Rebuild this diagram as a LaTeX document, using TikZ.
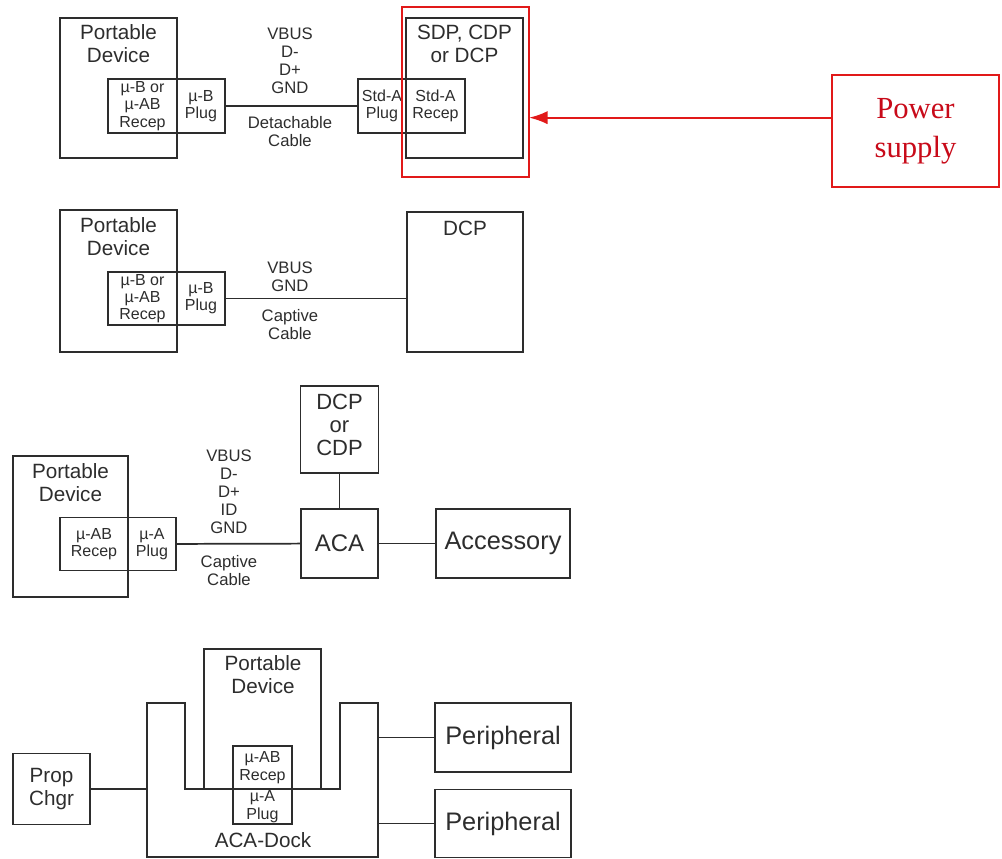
\documentclass[tikz,border=0pt]{standalone}
\usepackage{fontspec}
\setmainfont{Liberation Sans}
\newfontfamily\psfont{Liberation Serif}
\usepackage{tikz}
\usetikzlibrary{positioning}
\usetikzlibrary{arrows.meta}
\definecolor{ink}{RGB}{45,45,45}
\definecolor{psred}{RGB}{225,25,25}
\definecolor{pstext}{RGB}{200,10,25}
\tikzset{box/.style 2 args={draw=ink,line width=1.3pt,minimum width=0.75*#1pt,minimum height=0.75*#2pt,inner sep=0pt,outer sep=0pt,align=center,text=ink},
  plugtxt/.style={font=\fontsize{12}{12.9}\selectfont},
  devtxt/.style={font=\fontsize{15.5}{17.25}\selectfont,text=ink,align=center,inner sep=0pt},
  unittxt/.style={font=\fontsize{19}{22}\selectfont},
  cabletxt/.style={font=\fontsize{12.5}{13.5}\selectfont,text=ink,align=center,inner sep=0pt},
  pstxt/.style={font=\psfont\fontsize{23}{29}\selectfont,text=pstext},
  wire/.style={draw=ink,line width=1.3pt},}

\begin{document}
\begin{tikzpicture}[x=0.75pt,y=-0.75pt]
    \useasboundingbox (0,0) rectangle (1002,859);

    % detachable cable
    \node[box={117}{140}] (pdA) at (118.5,88) {};
    \node[devtxt] (pdAt) at (118.5,43.5) {Portable\\Device};
    \node[box={69}{54},plugtxt] (recA) at (142.5,106) {µ-B or\\µ-AB\\Recep};
    \node[box={48}{54},plugtxt] (plgA) [right = 0pt of recA] {µ-B\\Plug};
    \node[box={117}{140}] (sdpA) at (464.5,88) {};
    \node[devtxt] (sdpAt) at (464.5,44) {SDP, CDP\\or DCP};
    \node[box={59}{54},plugtxt] (stdrA) at (435.5,106) {Std-A\\Recep};
    \node[box={48}{54},plugtxt] (stdpA) [left = 0pt of stdrA] {Std-A\\Plug};
    \node[cabletxt] (sigA) at (290,60.5) {VBUS\\D-\\D+\\GND};
    \node[cabletxt] (cabA) at (290,131.5) {Detachable\\Cable};
    \node[box={127}{170},draw=psred,line width=2.2pt] (sdpRed) at (465.5,92) {};
    \node[box={167}{112},draw=psred,line width=2pt,pstxt] (pwr) at (915.5,131) {Power\\supply};

    \draw[wire] (plgA) -- (stdpA);
    \draw[psred,line width=1.6pt,-{Latex[length=14pt,width=10pt]}]
        ([yshift=10pt]pwr.west) coordinate (pwrIn) -- (pwrIn -| sdpRed.east);

    % captive cable
    \node[box={117}{142}] (pdB) at (118.5,281) {};
    \node[devtxt] (pdBt) at (118.5,236.5) {Portable\\Device};
    \node[box={69}{53},plugtxt] (recB) at (142.5,298.5) {µ-B or\\µ-AB\\Recep};
    \node[box={48}{53},plugtxt] (plgB) [right = 0pt of recB] {µ-B\\Plug};
    \node[box={116}{140}] (dcpB) at (465,282) {};
    \node[devtxt] (dcpBt) at (465,228) {DCP};
    \node[cabletxt] (sigB) at (290,277) {VBUS\\GND};
    \node[cabletxt] (cabB) at (290,325) {Captive\\Cable};

    \draw[wire] (plgB) -- (dcpB.west |- plgB);

    % ACA
    \node[box={115}{141}] (pdC) at (70.5,526.5) {};
    \node[devtxt] (pdCt) at (70.5,482.5) {Portable\\Device};
    \node[box={68}{53},plugtxt] (recC) at (94,544) {µ-AB\\Recep};
    \node[box={48}{53},plugtxt] (plgC) [right = 0pt of recC] {µ-A\\Plug};
    \node[cabletxt] (sigC) at (229,491.5) {VBUS\\D-\\D+\\ID\\GND};
    \node[cabletxt] (cabC) at (229,571) {Captive\\Cable};
    \node[box={78}{87},devtxt,font=\fontsize{16.5}{17.5}\selectfont,text depth=7pt] (dcpC) at (339.5,429.5) {DCP\\or\\CDP};
    \node[box={77}{69},font=\fontsize{18}{20}\selectfont] (acaC) at (339.5,543.5) {ACA};
    \node[box={134}{69},unittxt] (accC) at (503,543.5) {Accessory};

    \draw[wire] (plgC) -- (acaC);
    \draw[wire] (dcpC) -- (acaC);
    \draw[wire] (acaC) -- (accC);

    % ACA-Dock
    \draw[wire] (147,857) -- (147,703) -- (185,703) -- (185,789) -- (340,789)
        -- (340,703) -- (378,703) -- (378,857) -- cycle;
    \coordinate (dockW) at (147,789);
    \coordinate (dockE1) at (378,737.5);
    \coordinate (dockE2) at (378,823.5);
    \node[box={117}{140}] (pdD) at (262.5,719) {};
    \node[devtxt] (pdDt) at (263,675) {Portable\\Device};
    \node[box={59}{43},plugtxt,font=\fontsize{12}{13.5}\selectfont] (recD) at (262.5,767.5) {µ-AB\\Recep};
    \node[box={59}{35},plugtxt,font=\fontsize{12}{14}\selectfont] (plgD) [below = 0pt of recD] {µ-A\\Plug};
    \node[devtxt] (dockt) at (263,840) {ACA-Dock};
    \node[box={77}{71},devtxt] (propD) at (51.5,789) {Prop\\Chgr};
    \node[box={136}{69},unittxt] (perD1) at (503,737.5) {Peripheral};
    \node[box={136}{68},unittxt] (perD2) at (503,823.5) {Peripheral};

    \draw[wire] (propD) -- (dockW);
    \draw[wire] (dockE1) -- (perD1);
    \draw[wire] (dockE2) -- (perD2);
\end{tikzpicture}
\end{document}
